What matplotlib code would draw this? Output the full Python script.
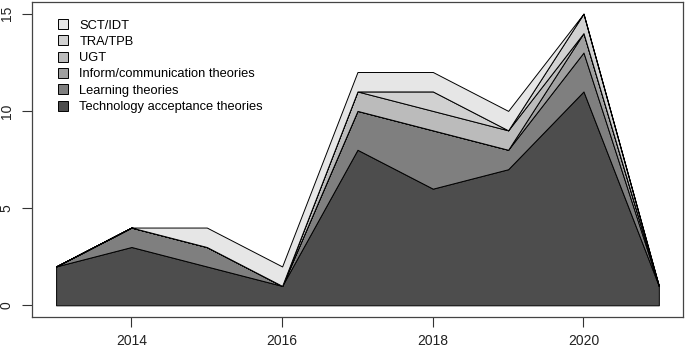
import numpy as np
import matplotlib
matplotlib.use('Agg')
import matplotlib.pyplot as plt
import matplotlib.patches as patches

plt.rcParams['font.family'] = ['Liberation Sans', 'DejaVu Sans']

years = [2013, 2014, 2015, 2016, 2017, 2018, 2019, 2020, 2021]

# counts per year, bottom layer first
tech_accept = [2, 3, 2, 1, 8, 6, 7, 11, 1]
learning = [0, 1, 1, 0, 2, 3, 1, 2, 0]
inform_comm = [0, 0, 0, 0, 0, 0, 0, 1, 0]
ugt = [0, 0, 0, 0, 1, 1, 1, 0, 0]
tra_tpb = [0, 0, 0, 0, 0, 1, 0, 1, 0]
sct_idt = [0, 0, 1, 1, 1, 1, 1, 0, 0]

labels = ['Technology acceptance theories', 'Learning theories',
          'Inform/communication theories', 'UGT', 'TRA/TPB', 'SCT/IDT']
colors = ['#4d4d4d', '#7f7f7f', '#a0a0a0', '#bbbbbb', '#d1d1d1', '#e6e6e6']

series = [tech_accept, learning, inform_comm, ugt, tra_tpb, sct_idt]

fig = plt.figure(figsize=(6.85, 3.5), dpi=100)
ax = fig.add_axes([0.0467, 0.0943, 0.9503, 0.9])

x = np.array(years)
base = np.zeros(len(years))
for i in range(len(series)):
    top = base + np.array(series[i])
    ax.fill_between(x, base, top, facecolor=colors[i], edgecolor='black',
                    linewidth=0.7)
    base = top

ax.set_xlim(2012.68, 2021.32)
ax.set_ylim(-0.6, 15.6)
ax.set_xticks([2014, 2016, 2018, 2020])
ax.set_yticks([0, 5, 10, 15])
ax.set_yticklabels(['0', '5', '10', '15'], rotation=90, va='center')
ax.tick_params(axis='both', direction='out', length=7, width=0.8,
               colors='#333333', labelsize=10, labelcolor='#222222')
ax.tick_params(axis='x', pad=5)
ax.tick_params(axis='y', pad=6)
for s in ax.spines.values():
    s.set_color('#444444')
    s.set_linewidth(0.9)

# legend, lightest on top
legends = []
for i in range(len(labels) - 1, -1, -1):
    legends.append(patches.Patch(facecolor=colors[i], edgecolor='black',
                                 linewidth=0.7, label=labels[i]))
ax.legend(handles=legends, loc='upper left', frameon=False, fontsize=9.3,
          handlelength=0.8, handleheight=0.8, handletextpad=0.85,
          labelspacing=0.3, borderaxespad=0.0,
          bbox_to_anchor=(0.032, 0.962))

fig.savefig('out.png', dpi=100)
plt.close()
